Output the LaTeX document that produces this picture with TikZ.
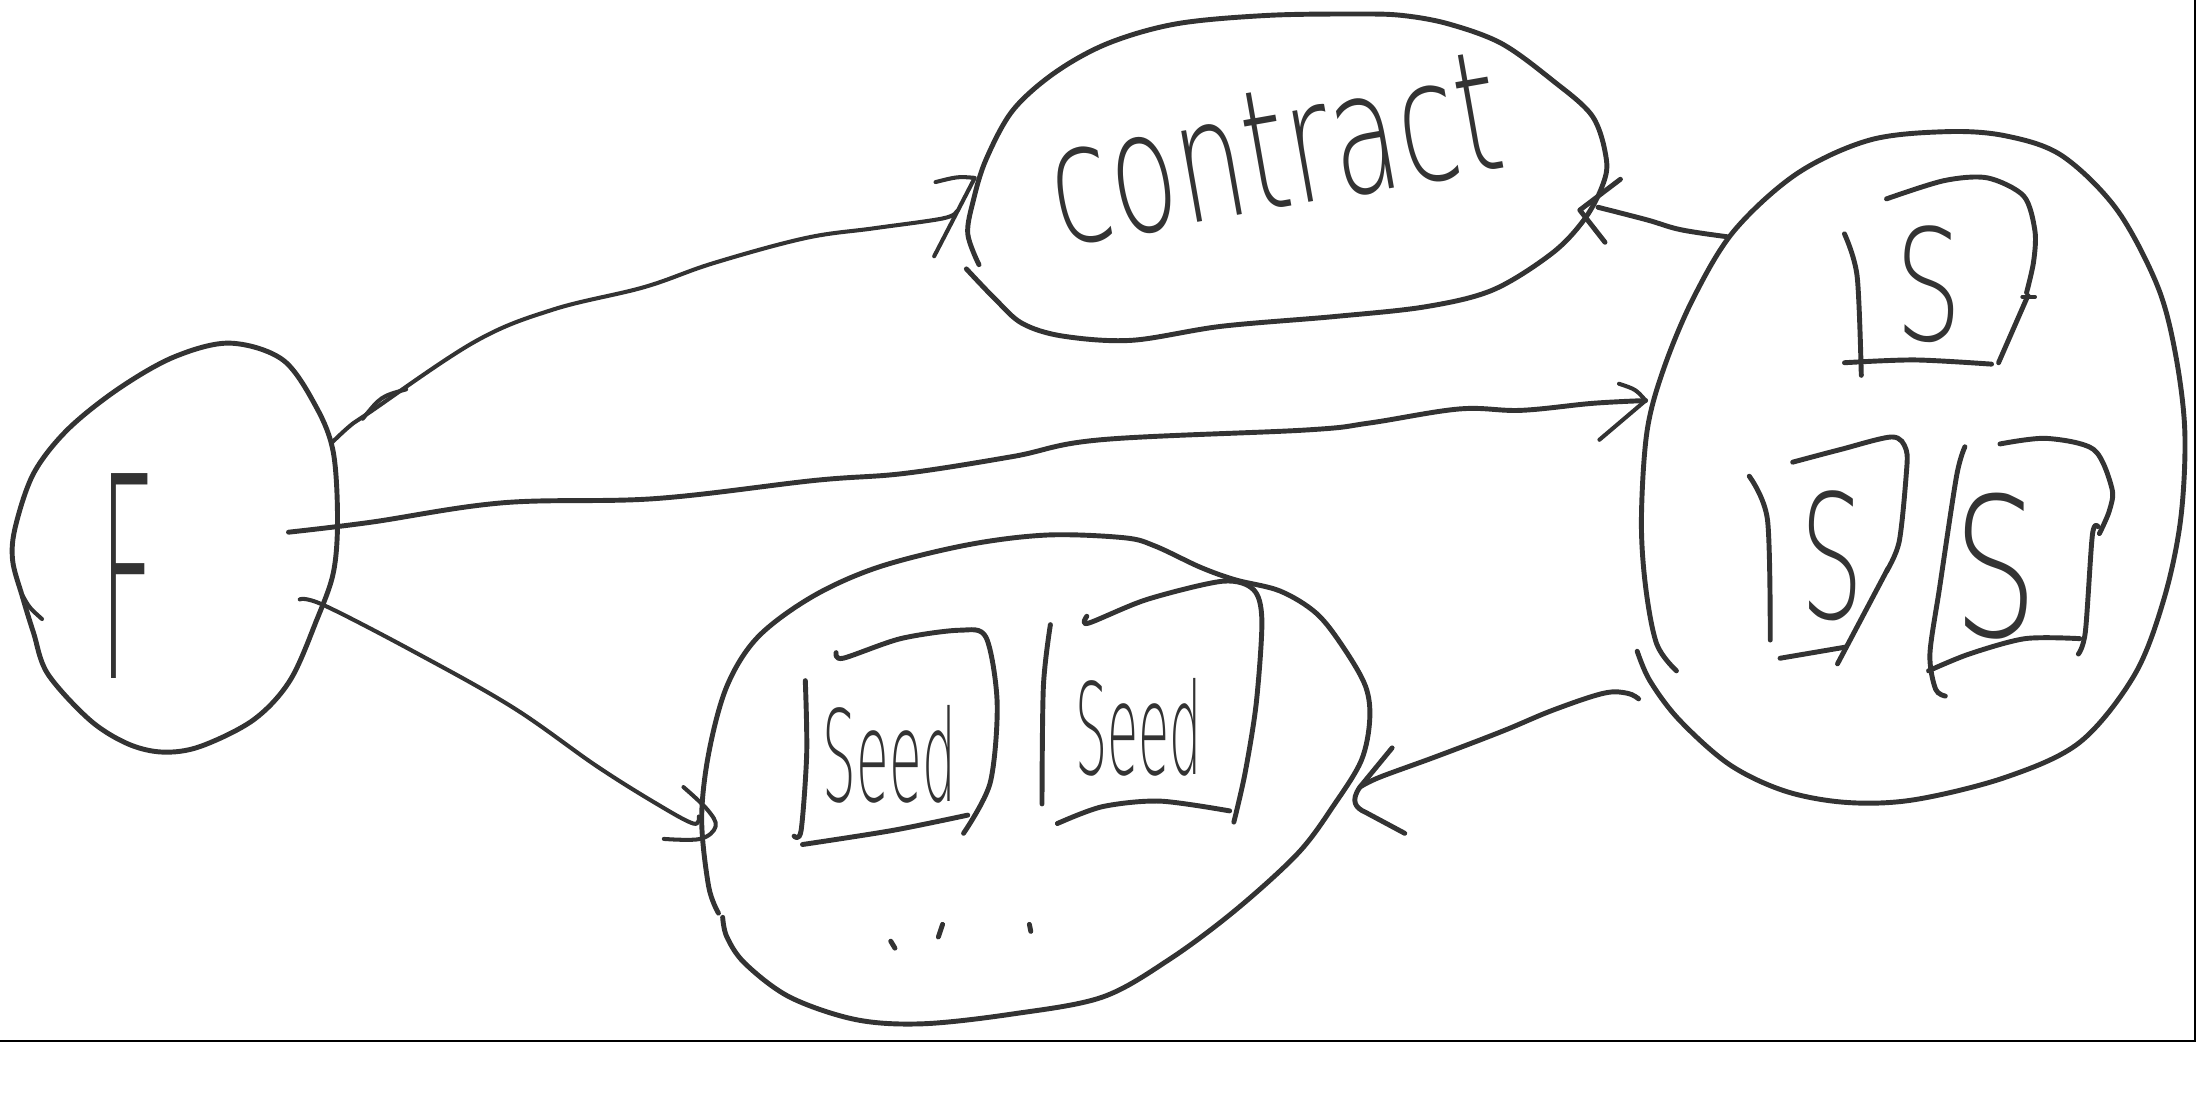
\documentclass[tikz,border=0pt]{standalone}
\usepackage{fontspec}
\newfontfamily\handfont{DejaVu Sans ExtraLight}
\definecolor{inkc}{RGB}{51,51,51}
\tikzset{
  ink/.style={draw=inkc, line width=1.4pt, line cap=round, line join=round},
  thin ink/.style={ink, line width=1.15pt},
  hand/.style={text=inkc, inner sep=0pt, outer sep=0pt},
}
\newcommand{\handsz}[1]{\handfont\fontsize{#1}{#1}\selectfont}
\begin{document}
\begin{tikzpicture}[x=0.014005cm, y=-0.014005cm]
\useasboundingbox (0,0) rectangle (1568,781);
% frame
\draw[black, line width=0.45pt] (0,743.3) -- (1567.3,743.3) -- (1567.3,0);

% ---------- F blob ----------
\draw[ink] plot[smooth cycle, tension=0.55] coordinates {(164,245) (202,257) (226,291) (238,323) (241,371) (238,409) (226,443) (207,486) (181,514) (143,533) (116,537) (91,531) (64,514) (34,481) (24,452) (16,426) (9,400) (11,376) (24,338) (48,307) (84,278) (124,255)};
\draw[thin ink] (16,425) .. controls (21,434) .. (30,442);
\node[hand, font=\handsz{80}, xscale=0.35] (Ftxt) at (91,411) {F};

% ---------- contract blob ----------
\draw[ink] plot[smooth, tension=0.55] coordinates {(699,189) (691,167) (695,143) (704,114) (723,79) (753,52) (791,31) (840,17) (905,11) (969,10) (1001,11) (1034,17) (1072,31) (1108,57) (1137,83) (1147,114) (1144,133) (1131,157) (1108,181) (1066,207) (1018,219) (953,226) (872,233) (808,243) (759,240) (730,231) (711,214) (690,192)};
\node[hand, font=\handsz{48}, rotate=10, xscale=0.65, anchor=base west] (contracttxt) at (757,176) {contract};

% ---------- S blob ----------
\draw[ink] plot[smooth, tension=0.55] coordinates {(1197,479) (1183,460) (1175,419) (1172,371) (1176,308) (1188,263) (1209,213) (1238,165) (1283,124) (1335,100) (1390,94) (1432,97) (1472,111) (1511,149) (1540,203) (1553,251) (1560,308) (1557,371) (1545,428) (1524,482) (1485,530) (1432,555) (1367,571) (1319,573) (1275,565) (1235,546) (1199,514) (1178,486) (1169,465)};
% box 1
\draw[ink] plot[smooth] coordinates {(1317,167) (1326,197) (1329,268)};
\draw[ink] plot[smooth] coordinates {(1317,259) (1367,257) (1422,260)};
\draw[ink] plot[smooth] coordinates {(1347,142) (1388,129) (1419,127) (1445,140) (1453,165) (1452,187) (1447,209)};
\draw[ink] (1448,211) -- (1427,259);
\draw[thin ink] (1444,212) -- (1453,212);
\node[hand, font=\handsz{44}, xscale=0.68] (S1) at (1377,203) {S};
% box 2
\draw[ink] plot[smooth] coordinates {(1249,340) (1262,371) (1264,457)};
\draw[ink] plot[smooth] coordinates {(1280,330) (1314,321) (1351,312) (1361,321) (1361,340) (1356,387) (1347,408)};
\draw[ink] (1348,406) -- (1312,474);
\draw[ink] (1271,470) -- (1318,462);
\node[hand, font=\handsz{49}, xscale=0.58] (S2) at (1308,397) {S};
% box 3
\draw[ink] plot[smooth] coordinates {(1403,319) (1397,340) (1385,419) (1378,467) (1382,492) (1389,497)};
\draw[ink] plot[smooth] coordinates {(1428,317) (1461,313) (1495,321) (1508,349) (1506,365) (1499,381)};
\draw[ink] plot[smooth] coordinates {(1498,376) (1494,382) (1489,451) (1484,467)};
\draw[ink] plot[smooth] coordinates {(1377,479) (1406,467) (1446,456) (1485,456)};
\node[hand, font=\handsz{55}, xscale=0.69] (S3) at (1425,404) {S};

% ---------- Seed blob ----------
\draw[ink] plot[smooth, tension=0.55] coordinates {(513,652) (506,633) (501,585) (506,538) (519,490) (541,455) (580,426) (627,405) (691,389) (748,382) (803,384) (825,390) (857,405) (882,414) (914,422) (940,438) (959,462) (975,490) (978,514) (972,543) (953,574) (927,609) (882,650) (835,685) (787,712) (723,724) (659,731) (611,728) (564,712) (532,688) (519,669) (516,655)};
% box A
\draw[ink] plot[smooth] coordinates {(575,486) (576,538) (572,593) (567,597)};
\draw[ink] plot[smooth] coordinates {(597,466) (602,470) (643,456) (685,450) (704,455) (712,502) (707,559) (688,595)};
\draw[ink] plot[smooth] coordinates {(573,603) (637,593) (691,582)};
\node[hand, font=\handsz{36}, xscale=0.42, anchor=base] (seedA) at (635,572) {Seed};
% box B
\draw[ink] plot[smooth] coordinates {(750,446) (745,490) (744,574)};
\draw[ink] plot[smooth] coordinates {(776,440) (777,445) (819,428) (873,415) (895,421) (901,443) (897,502) (889,552) (881,587)};
\draw[ink] plot[smooth] coordinates {(755,588) (787,576) (828,572) (878,579)};
\node[hand, font=\handsz{36}, xscale=0.4, anchor=base] (seedB) at (813,553) {Seed};
% dots
\draw[ink] (636,672) -- (639,677);
\draw[ink] (673,660) -- (670,669);
\draw[ink] (735,660) -- (736,665);

% ---------- connectors ----------
\coordinate (a1s) at (237,316);
\coordinate (a1e) at (683,151);
\coordinate (a1tip) at (696,127);
\draw[thin ink] plot[smooth, tension=0.6] coordinates {(a1s) (250,304) (263,295) (339,244) (395,221) (460,205) (509,188) (575,170) (624,163) (673,156) (a1e)};
\draw[thin ink] (259,299) .. controls (272,283) .. (290,278);
\draw[thin ink] (668,130) .. controls (684,126) .. (a1tip) -- (667,183);

\coordinate (a2s) at (206,380);
\coordinate (a2e) at (1175,286);
\draw[ink] plot[smooth, tension=0.6] coordinates {(a2s) (264,373) (359,359) (468,356) (582,343) (646,338) (723,326) (786,314) (933,307) (978,302) (1042,292) (1086,293) (1137,288) (a2e)};
\draw[thin ink] (1156,274) .. controls (1168,278) .. (a2e) -- (1142,314);

\coordinate (a3s) at (214,428);
\coordinate (a3e) at (499,583);
\draw[thin ink] plot[smooth, tension=0.6] coordinates {(a3s) (231,432) (295,465) (366,505) (426,547) (469,574) (495,588) (a3e)};
\draw[thin ink] plot[smooth, tension=0.6] coordinates {(488,562) (505,578) (511,590) (500,599) (474,599)};

\coordinate (a4s) at (1170,499);
\coordinate (a4e) at (971,562);
\draw[ink] plot[smooth, tension=0.6] coordinates {(a4s) (1162,495) (1145,495) (1109,507) (1073,522) (1026,540) (985,555) (a4e)};
\draw[ink] (994,534) -- (a4e) .. controls (964,572) and (968,577) .. (975,580) -- (1003,595);

\coordinate (a5s) at (1233,169);
\coordinate (a5e) at (1141,148);
\coordinate (a5tip) at (1128,150);
\draw[ink] plot[smooth, tension=0.6] coordinates {(a5s) (1200,164) (1176,157) (a5e)};
\draw[ink] (1157,128) -- (a5tip) -- (1146,173);
\end{tikzpicture}
\end{document}
